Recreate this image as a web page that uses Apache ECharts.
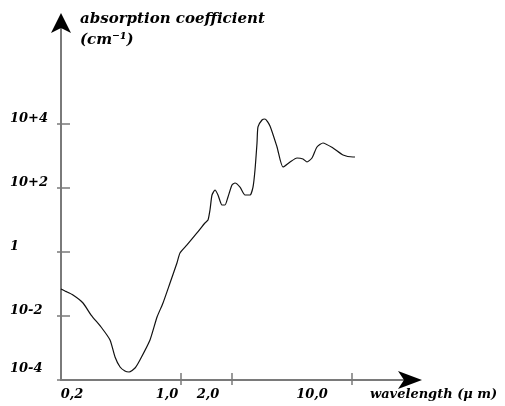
<!DOCTYPE html>
<html>
<head>
<meta charset="utf-8">
<script src="https://cdn.jsdelivr.net/npm/echarts@6/dist/echarts.min.js"></script>
<style>
html,body{margin:0;padding:0;background:#fff;}
#chart{width:505px;height:406px;}
</style>
</head>
<body>
<div id="chart"></div>
<script>
// wavelength (µm) and absorption coefficient (cm^-1)
const wavelength = [0.200,0.211,0.235,0.269,0.300,0.343,0.387,0.414,0.443,0.473,0.500,0.542,0.579,0.663,0.729,0.790,0.868,0.953,0.993,1.091,1.248,1.390,1.448,1.487,1.528,1.591,1.656,1.748,1.820,1.895,2.000,2.082,2.228,2.383,2.549,2.654,2.726,2.801,2.838,2.995,3.119,3.336,3.667,3.974,4.368,4.799,5.203,5.490,5.872,6.282,6.811,7.790,8.917,10.20,10.48];
const absorption = [0.0698,0.0603,0.0453,0.0255,0.0107,0.00453,0.00178,0.000524,0.000255,0.000191,0.000178,0.000237,0.000422,0.00178,0.0093,0.0255,0.107,0.453,0.93,1.66,3.93,8.06,10,20.5,60.4,86.6,60.4,29.4,29.4,52.4,124,143,107,60.4,60.4,107,365,2547,8060,13335,14330,8660,1910,453,649,866,806,649,866,1910,2547,1778,1072,929,929];

const xTickValues = [1, 2, 10];
const xLabelValues = [0.2, 1, 2, 10];
const xLabelText = ['0,2', '1,0', '2,0', '10,0'];
const yTickValues = [1e-4, 1e-2, 1, 1e2, 1e4];
const yLabelText = ['10-4', '10-2', '1', '10+2', '10+4'];

const xMin = 0.2, xMax = 21.98;
const yMin = 1e-4, yMax = Math.pow(10, 7.156);

const FONT = 'DejaVu Serif';
const axisGray = '#7a7a7a';

function findIdx(arr, v) {
  for (let i = 0; i < arr.length; i++) {
    if (Math.abs(Math.log10(arr[i]) - Math.log10(v)) < 1e-6) return i;
  }
  return -1;
}
const xRichKeys = ['a', 'b', 'c', 'd'];
const lab = {color: '#000', fontFamily: FONT, fontStyle: 'italic', fontWeight: 'bold', fontSize: 13};

const chart = echarts.init(document.getElementById('chart'), null, {renderer: 'canvas'});
const option = {
  animation: false,
  backgroundColor: '#fff',
  grid: {left: 61, top: 23, width: 349, height: 357, containLabel: false},
  xAxis: [
    {
      type: 'log', min: xMin, max: xMax, position: 'bottom',
      axisLine: {show: true, onZero: false, lineStyle: {color: axisGray, width: 2}},
      axisTick: {show: true, inside: false, length: 5, customValues: xTickValues, lineStyle: {color: axisGray, width: 1.5}},
      minorTick: {show: false},
      splitLine: {show: false},
      axisLabel: Object.assign({
        show: true, margin: 8, customValues: xLabelValues,
        formatter: function (v) {
          const i = findIdx(xLabelValues, v);
          return i < 0 ? '' : '{' + xRichKeys[i] + '|' + xLabelText[i] + '}';
        },
        rich: {
          a: Object.assign({padding: [0, 0, 0, 22]}, lab),
          b: Object.assign({padding: [0, 27, 0, 0]}, lab),
          c: Object.assign({padding: [0, 48, 0, 0]}, lab),
          d: Object.assign({padding: [0, 79, 0, 0]}, lab)
        }
      }, lab),
      name: 'wavelength (μ m)',
      nameLocation: 'end',
      nameGap: -40,
      nameTextStyle: Object.assign({align: 'left', verticalAlign: 'top', padding: [8, 0, 0, 0]}, lab)
    },
    {
      type: 'log', min: xMin, max: xMax, position: 'bottom',
      axisLine: {show: true, onZero: false, symbol: ['none', 'arrow'], symbolSize: [13.5, 24], symbolOffset: [0, 12], lineStyle: {color: '#000', width: 0}},
      axisTick: {show: true, inside: true, length: 7, customValues: xTickValues, lineStyle: {color: axisGray, width: 1.5}},
      minorTick: {show: false},
      splitLine: {show: false},
      axisLabel: {show: false}
    }
  ],
  yAxis: [
    {
      type: 'log', min: yMin, max: yMax, position: 'left',
      axisLine: {show: true, onZero: false, lineStyle: {color: axisGray, width: 2}},
      axisTick: {show: true, inside: false, length: 4, customValues: yTickValues, lineStyle: {color: axisGray, width: 1.5}},
      minorTick: {show: false},
      splitLine: {show: false},
      axisLabel: Object.assign({
        show: true, align: 'left', margin: 51, customValues: yTickValues,
        formatter: function (v) {
          const i = findIdx(yTickValues, v);
          if (i < 0) return '';
          return (i === 0 ? '{low|' : '{n|') + yLabelText[i] + '}';
        },
        rich: {
          n: Object.assign({padding: [0, 0, 10, 0]}, lab),
          low: Object.assign({padding: [0, 0, 22, 0]}, lab)
        }
      }, lab),
      name: 'absorption coefficient\n(cm⁻¹)',
      nameLocation: 'end',
      nameGap: 14,
      nameTextStyle: {
        color: '#000', fontFamily: FONT, fontStyle: 'italic', fontWeight: 'bold', fontSize: 15,
        align: 'left', verticalAlign: 'top', lineHeight: 21, padding: [0, 0, 0, 19]
      }
    },
    {
      type: 'log', min: yMin, max: yMax, position: 'left',
      axisLine: {show: true, onZero: false, symbol: ['none', 'arrow'], symbolSize: [15, 20], symbolOffset: [0, 10], lineStyle: {color: '#000', width: 0}},
      axisTick: {show: true, inside: true, length: 9, customValues: yTickValues, lineStyle: {color: axisGray, width: 1.5}},
      minorTick: {show: false},
      splitLine: {show: false},
      axisLabel: {show: false}
    }
  ],
  series: [
    {
      type: 'line',
      xAxisIndex: 0, yAxisIndex: 0,
      data: wavelength.map((w, i) => [w, absorption[i]]),
      showSymbol: false,
      smooth: 0.2,
      lineStyle: {color: '#111', width: 1.2},
      silent: true
    }
  ]
};
chart.setOption(option);
</script>
</body>
</html>
